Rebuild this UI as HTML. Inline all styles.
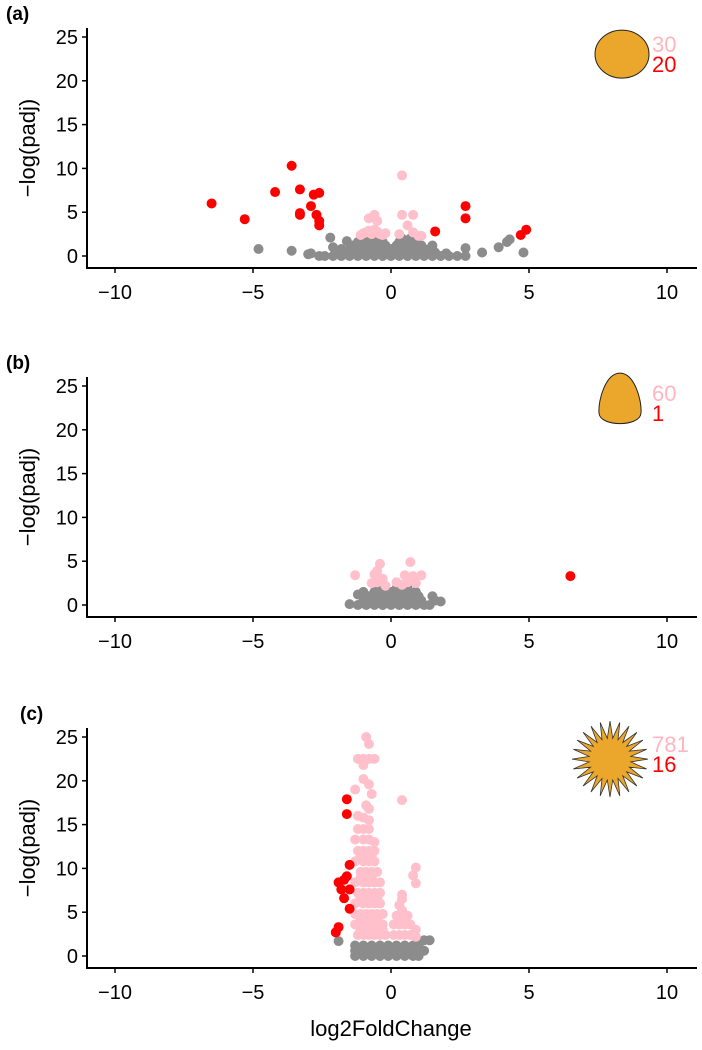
<!DOCTYPE html>
<html><head><meta charset="utf-8">
<style>
body{margin:0;background:#fff;}
svg{display:block;font-family:"Liberation Sans",Arial,sans-serif;}
</style></head>
<body>
<svg id="chart" width="702" height="1050" viewBox="0 0 702 1050" xmlns="http://www.w3.org/2000/svg"></svg>
<script>
const xTicks=[-10,-5,0,5,10];
const yTicks=[0,5,10,15,20,25];
const panelLabels=["(a)","(b)","(c)"];
const upCounts=["30","60","781"];
const downCounts=["20","1","16"];

const grayA=[[-4.8,0.8],[-3.6,0.6],[-3.0,0.2],[-2.9,0.3],[-2.6,0],[-2.2,2.1],[-2.1,1.0],[-1.6,1.7],[3.3,0.4],[3.9,1.0],[4.2,1.6],[4.3,1.9],[4.8,0.4],[2.7,0.9],[2.7,0],[1.5,1.2],[2.0,0.3],
[-2.4,0],[-2.1,0],[-1.8,0],[-1.5,0],[-1.2,0],[-0.9,0],[-0.6,0],[-0.3,0],[0,0],[0.3,0],[0.6,0],[0.9,0],[1.2,0],[1.5,0],[1.8,0],[2.1,0],[2.4,0],
[-2.0,0.4],[-1.7,0.4],[-1.4,0.4],[-1.1,0.4],[-0.8,0.4],[-0.5,0.4],[-0.2,0.4],[0.1,0.4],[0.4,0.4],[0.7,0.4],[1.0,0.4],[1.3,0.4],[1.6,0.4],
[-1.8,0.8],[-1.5,0.8],[-1.2,0.8],[-0.9,0.8],[-0.6,0.8],[-0.3,0.8],[0,0.8],[0.3,0.8],[0.6,0.8],[0.9,0.8],[1.2,0.8],[1.4,0.8],
[-1.4,1.2],[-1.1,1.2],[-0.8,1.2],[-0.5,1.2],[-0.2,1.2],[0.2,1.2],[0.5,1.2],[0.8,1.2],[1.1,1.2],
[-1.2,1.6],[-0.9,1.6],[-0.6,1.6],[-0.3,1.6],[0.3,1.6],[0.6,1.6],[0.9,1.6],[-0.7,2.0],[-0.4,2.0],[0.4,2.0],[0.7,2.0]];
const pinkA=[[0.4,9.2],[-0.8,4.3],[-0.6,4.7],[-0.5,4.0],[0.4,4.7],[0.8,4.7],[0.6,3.5],[-1.1,2.4],[-0.9,2.7],[-0.7,2.5],[-0.5,2.8],[-0.3,2.4],[-0.6,3.0],[0.3,2.5],[0.8,2.7],[1.0,2.3],[1.1,2.3],[-0.8,2.9],[-0.4,2.5],[-1.0,2.6],[-0.2,2.6]];
const redA=[[-6.5,6.0],[-5.3,4.2],[-4.2,7.3],[-3.6,10.3],[-3.3,7.6],[-3.3,4.9],[-3.3,4.7],[-2.9,5.7],[-2.8,7.0],[-2.6,7.2],[-2.7,4.7],[-2.6,4.0],[-2.6,3.5],[1.6,2.8],[2.7,5.7],[2.7,4.3],[4.7,2.4],[4.9,3.0]];

const grayB=[[-1.5,0.1],[-1.2,1.2],[1.6,0.5],[1.8,0.4],[1.5,1.0],[-1.0,1.5],
[-1.2,0],[-0.9,0],[-0.6,0],[-0.3,0],[0,0],[0.3,0],[0.6,0],[0.9,0],[1.2,0],[1.4,0],
[-1.0,0.5],[-0.7,0.5],[-0.4,0.5],[-0.1,0.5],[0.2,0.5],[0.5,0.5],[0.8,0.5],[1.1,0.5],
[-0.8,1.0],[-0.5,1.0],[-0.2,1.0],[0.1,1.0],[0.4,1.0],[0.7,1.0],[1.0,1.0],
[-0.6,1.5],[-0.3,1.5],[0,1.5],[0.3,1.5],[0.6,1.5],[0.9,1.5],[-0.4,1.9],[0.2,1.9],[0.6,1.9]];
const pinkB=[[-1.3,3.4],[-0.6,3.5],[-0.4,4.7],[-0.5,2.6],[-0.3,3.0],[0.7,4.9],[0.5,3.4],[0.8,3.3],[0.2,2.6],[-0.7,2.5],[0.4,2.3],[-0.2,2.2],[1.1,3.4],[0.6,2.6],[-0.5,3.9],[0.9,2.5]];
const redB=[[6.5,3.3]];

const grayC=[[1.2,1.8],[1.4,1.8],[-1.9,1.7],[1.2,0.6],
[-1.3,0],[-1.0,0],[-0.7,0],[-0.4,0],[-0.1,0],[0.2,0],[0.5,0],[0.8,0],[1.0,0],
[-1.3,0.6],[-1.0,0.6],[-0.7,0.6],[-0.4,0.6],[-0.1,0.6],[0.2,0.6],[0.5,0.6],[0.8,0.6],[1.0,0.6],
[-1.3,1.2],[-1.0,1.2],[-0.7,1.2],[-0.4,1.2],[-0.1,1.2],[0.2,1.2],[0.5,1.2],[0.8,1.2],[1.0,1.2]];
const pinkC=[[-0.9,25.0],[-0.8,24.2],[-1.2,22.5],[-1.0,22.5],[-0.8,22.5],[-0.6,22.5],[-1.0,21.8],[-1.0,20.2],[-0.8,19.6],[-1.3,19.0],[-0.7,18.5],[-0.9,17.2],[-0.8,16.8],[0.4,17.8],
[-1.2,16.0],[-1.0,15.8],[-0.8,15.5],[-1.2,14.5],[-1.0,14.5],[-0.8,14.5],[-1.3,13.3],[-1.0,13.3],[-0.8,13.3],[-0.6,13.0],
[-1.2,12.0],[-1.0,12.0],[-0.8,12.0],[-0.6,12.0],[-1.3,10.8],[-1.0,10.8],[-0.8,10.8],[-0.6,10.8],[-1.1,9.6],[-0.9,9.6],[-0.7,9.6],[-0.5,9.6],
[-1.3,8.4],[-1.0,8.4],[-0.8,8.4],[-0.6,8.4],[-0.4,8.4],[-1.2,7.2],[-1.0,7.2],[-0.8,7.2],[-0.6,7.2],[-0.4,7.2],
[-1.3,6.0],[-1.0,6.0],[-0.8,6.0],[-0.6,6.0],[-0.4,6.0],[-1.3,4.8],[-1.1,4.8],[-0.9,4.8],[-0.7,4.8],[-0.5,4.8],[-0.3,4.8],
[-1.3,3.6],[-1.1,3.6],[-0.9,3.6],[-0.7,3.6],[-0.5,3.6],[-0.3,3.6],[-1.2,2.4],[-1.0,2.4],[-0.8,2.4],[-0.6,2.4],[-0.4,2.4],[-0.2,2.4],
[0.9,10.1],[0.8,9.2],[0.9,8.3],[0.3,5.8],[0.4,5.2],[0.2,4.6],[0.4,4.6],[0.6,4.6],[0.1,3.6],[0.3,3.6],[0.5,3.6],[0.7,3.6],[0.9,3.0],[0.1,2.4],[0.3,2.4],[0.5,2.4],[0.7,2.4],[0.9,2.2],[0.4,7.0],[0.4,6.5],
[-1.1,11.4],[-0.9,11.4],[-0.7,11.4],[-1.1,9.0],[-0.9,9.0],[-0.7,9.0],[-1.1,6.6],[-0.9,6.6],[-0.7,6.6],[-0.5,6.6],[-1.1,4.2],[-0.9,4.2],[-0.7,4.2],[-0.5,4.2],[-1.1,3.0],[-0.9,3.0],[-0.7,3.0],[-0.5,3.0],[-0.3,3.0]];
const redC=[[-1.6,17.9],[-1.6,16.2],[-1.5,10.4],[-1.6,9.1],[-1.7,8.7],[-1.9,8.4],[-1.8,7.6],[-1.5,7.6],[-1.7,6.6],[-1.5,5.4],[-1.9,3.3],[-2.0,2.7]];

const panels=[{g:grayA,p:pinkA,r:redA,y0:256},{g:grayB,p:pinkB,r:redB,y0:605},{g:grayC,p:pinkC,r:redC,y0:956}];
const svg=document.getElementById('chart');
const NS='http://www.w3.org/2000/svg';
function mk(tag,attrs,parent){const e=document.createElementNS(NS,tag);for(const k in attrs)e.setAttribute(k,attrs[k]);parent.appendChild(e);return e;}
const xs=v=>391+v*27.6;
panels.forEach((P,i)=>{
  const ys=v=>P.y0-v*8.76;
  const g=mk('g',{},svg);
  
  
  const axisY=P.y0+12, top=P.y0-228;
  const lab=mk('text',{x:i==2?20:6,y:top-8,'font-size':19,'font-weight':'bold'},g);lab.textContent=panelLabels[i];
  
  
  const yl=mk('line',{x1:87,y1:top,x2:87,y2:axisY,stroke:'#000','stroke-width':2},g);
  
  
  const xl=mk('line',{x1:86,y1:axisY,x2:697,y2:axisY,stroke:'#000','stroke-width':2},g);
  
  
  yTicks.forEach(t=>{
    mk('line',{x1:82,y1:ys(t),x2:87,y2:ys(t),stroke:'#000','stroke-width':1.5},g);
    const tx=mk('text',{x:78,y:ys(t)+7,'font-size':20,'text-anchor':'end'},g);tx.textContent=t;
    
    
  });
  xTicks.forEach(t=>{
    mk('line',{x1:xs(t),y1:axisY,x2:xs(t),y2:axisY+5,stroke:'#000','stroke-width':1.5},g);
    const tx=mk('text',{x:xs(t),y:axisY+31,'font-size':20,'text-anchor':'middle'},g);tx.textContent=t<0?'\u2212'+(-t):t;
    
    
  });
  const yt=mk('text',{x:0,y:0,'font-size':22,'text-anchor':'middle',transform:`translate(35,${(top+axisY)/2}) rotate(-90)`},g);yt.textContent='\u2212log(padj)';
  
  
  [[P.g,'#8c8c8c','gray-point'],[P.p,'#ffc0cb','pink-point'],[P.r,'#ff0000','red-point']].forEach(([arr,col,nm])=>{
    arr.forEach(d=>{const c=mk('circle',{cx:xs(d[0]),cy:ys(d[1]),r:5,fill:col},g);
      
      });
  });
  const cy=ys(23.5), cx=620;
  let icon;
  if(i==0){icon=mk('ellipse',{cx:cx+2,cy:cy+4,rx:27,ry:24,fill:'#eba72c',stroke:'#222','stroke-width':1},g);}
  else if(i==1){icon=mk('path',{d:`M${cx} ${cy-26} C${cx+14} ${cy-26} ${cx+22} ${cy} ${cx+21} ${cy+14} C${cx+20} ${cy+28} ${cx-20} ${cy+28} ${cx-21} ${cy+14} C${cx-22} ${cy} ${cx-14} ${cy-26} ${cx} ${cy-26} Z`,fill:'#eba72c',stroke:'#222','stroke-width':1},g);}
  else{let d='';const n=24;for(let k=0;k<2*n;k++){const a=k*Math.PI/n;const rr=k%2==0?38:21;d+=(k?'L':'M')+(610+rr*Math.cos(a)).toFixed(1)+' '+(cy+9+rr*Math.sin(a)).toFixed(1);}icon=mk('path',{d:d+'Z',fill:'#eba72c',stroke:'#333','stroke-width':0.8},g);}
  
  
  const u=mk('text',{x:652,y:cy+2,'font-size':22,fill:'#ffb6c1'},g);u.textContent=upCounts[i];
  
  
  const dn=mk('text',{x:652,y:cy+22,'font-size':22,fill:'#ff0000'},g);dn.textContent=downCounts[i];
  
  
});
const xt=mk('text',{x:391,y:1036,'font-size':22,'text-anchor':'middle'},svg);xt.textContent='log2FoldChange';


</script>
</body></html>
